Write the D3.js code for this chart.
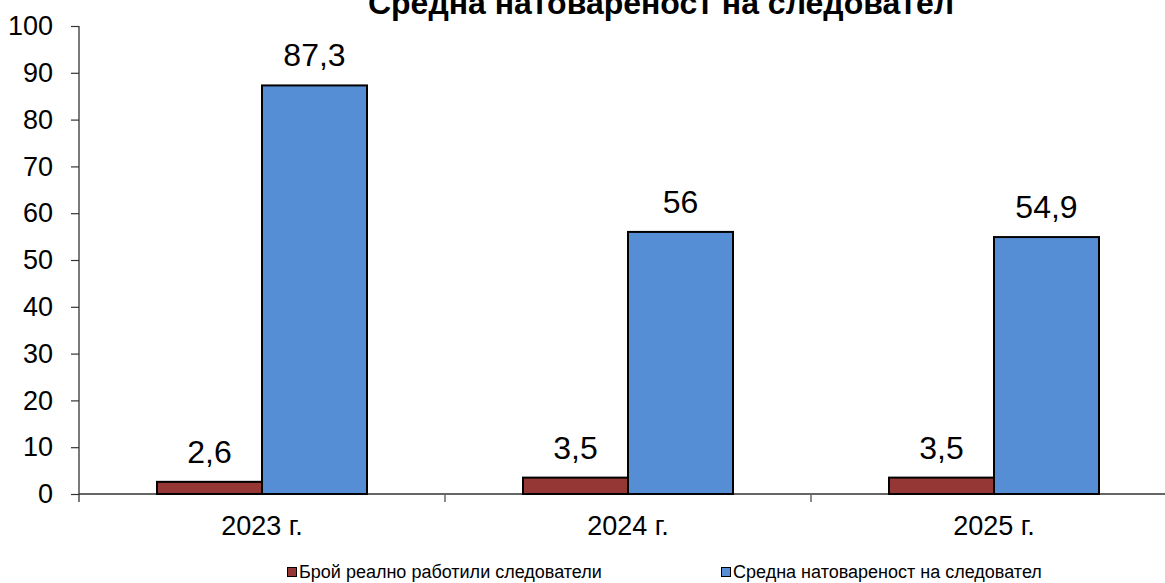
<!DOCTYPE html>
<html>
<head>
<meta charset="utf-8">
<script src="https://cdn.jsdelivr.net/npm/d3@7"></script>
<style>
  html, body { margin: 0; padding: 0; background: #fff; }
  svg { display: block; font-family: "Liberation Sans", Arial, sans-serif; }
</style>
</head>
<body>
<svg id="chart" width="1165" height="583"></svg>
<script>
const title = "Средна натовареност на следовател";
const categories = ["2023 г.", "2024 г.", "2025 г."];
const seriesNames = ["Брой реално работили следователи", "Средна натовареност на следовател"];
const seriesA = [2.6, 3.5, 3.5];
const seriesB = [87.3, 56, 54.9];
const labelsA = ["2,6", "3,5", "3,5"];
const labelsB = ["87,3", "56", "54,9"];
const yTicks = [0, 10, 20, 30, 40, 50, 60, 70, 80, 90, 100];
const colors = ["#953735", "#558ED5"];

const svg = d3.select("#chart");
const plotLeft = 79, plotRight = 1177, plotTop = 26, plotBottom = 494;

const x = d3.scaleBand().domain(categories).range([plotLeft, plotRight])
  .paddingInner(156 / 366).paddingOuter(78 / 366);
const x1 = d3.scaleBand().domain([0, 1]).range([0, x.bandwidth()]).padding(0);
const y = d3.scaleLinear().domain([0, 100]).range([plotBottom, plotTop]);

const rows = categories.map((c, i) => ({
  cat: c,
  vals: [
    { s: 0, v: seriesA[i], lab: labelsA[i] },
    { s: 1, v: seriesB[i], lab: labelsB[i] }
  ]
}));

// Title (partly cut off at the top, as in the reference)
svg.append("text")
  .attr("x", 661).attr("y", 14)
  .attr("text-anchor", "middle")
  .attr("font-weight", "bold")
  .attr("font-size", 32)
  .attr("fill", "#000")
  .text(title);

// Y axis
const yAxis = d3.axisLeft(y).tickValues(yTicks).tickSize(8).tickPadding(18)
  .tickFormat(d3.format("d"));
const gy = svg.append("g").attr("transform", `translate(${plotLeft},0)`).call(yAxis);
gy.select(".domain").remove();
gy.selectAll(".tick line").attr("stroke", "#333").attr("stroke-width", 1.2);
gy.selectAll(".tick text").attr("font-size", 27).attr("fill", "#000")
  .attr("font-family", "Liberation Sans, Arial, sans-serif");
svg.append("line").attr("x1", plotLeft).attr("x2", plotLeft).attr("y1", plotTop).attr("y2", plotBottom + 8)
  .attr("stroke", "#333").attr("stroke-width", 1.3);

// X axis
const xAxis = d3.axisBottom(x).tickSize(0).tickPadding(22);
const gx = svg.append("g").attr("transform", `translate(0,${plotBottom})`).call(xAxis);
gx.select(".domain").remove();
gx.selectAll(".tick text").attr("font-size", 27).attr("fill", "#000")
  .attr("font-family", "Liberation Sans, Arial, sans-serif");
svg.append("line").attr("x1", plotLeft).attr("x2", plotRight).attr("y1", plotBottom).attr("y2", plotBottom)
  .attr("stroke", "#333").attr("stroke-width", 1.3);
// category boundary ticks
const bounds = categories.slice(1).map(c => x(c) - x.step() * x.paddingInner() / 2);
svg.selectAll(".ctick").data(bounds).enter().append("line")
  .attr("x1", d => d).attr("x2", d => d)
  .attr("y1", plotBottom).attr("y2", plotBottom + 8)
  .attr("stroke", "#666").attr("stroke-width", 1.5);

// Bars
const groups = svg.selectAll(".grp").data(rows).enter().append("g")
  .attr("transform", d => `translate(${x(d.cat)},0)`);
groups.selectAll("rect").data(d => d.vals).enter().append("rect")
  .attr("x", d => x1(d.s))
  .attr("width", x1.bandwidth())
  .attr("y", d => y(d.v))
  .attr("height", d => y(0) - y(d.v))
  .attr("fill", d => colors[d.s])
  .attr("stroke", "#000").attr("stroke-width", 2);
groups.selectAll(".lbl").data(d => d.vals).enter().append("text")
  .attr("x", d => x1(d.s) + x1.bandwidth() / 2)
  .attr("y", d => y(d.v) - 19)
  .attr("text-anchor", "middle")
  .attr("font-size", 32)
  .attr("fill", "#000")
  .text(d => d.lab);

// Legend
const legendX = [287, 721];
const lg = svg.selectAll(".leg").data(seriesNames).enter().append("g")
  .attr("transform", (d, i) => `translate(${legendX[i]},567)`);
lg.append("rect").attr("x", 0.5).attr("y", 0.5).attr("width", 9).attr("height", 9)
  .attr("fill", (d, i) => colors[i]).attr("stroke", "#000").attr("stroke-width", 1);
lg.append("text").attr("x", 12).attr("y", 11).attr("font-size", 18).attr("fill", "#000")
  .text(d => d);
</script>
</body>
</html>
